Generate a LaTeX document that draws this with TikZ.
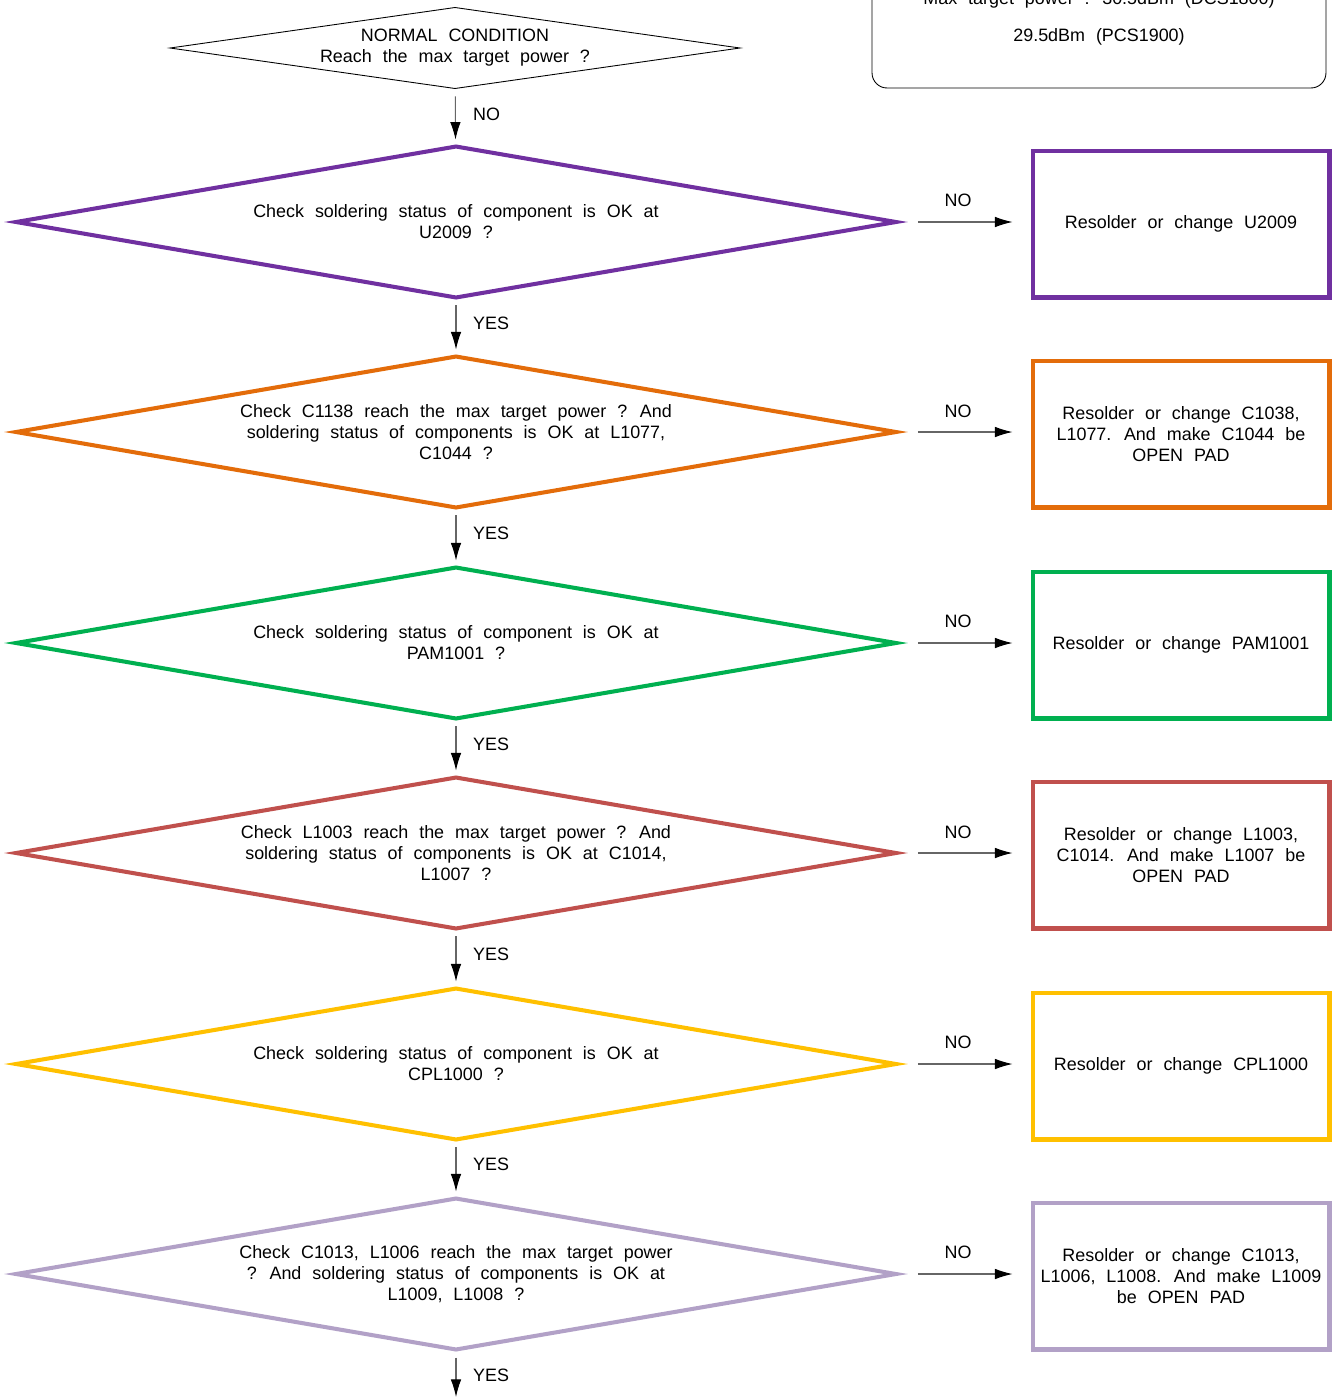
\documentclass[tikz,border=0pt]{standalone}
\usepackage{fontspec}
\setmainfont{Liberation Sans}[WordSpace=2.2]
\usepackage{tikz}
\usetikzlibrary{shapes.geometric, arrows.meta}
\definecolor{flowpurple}{HTML}{7030A0}
\definecolor{floworange}{HTML}{E36C0A}
\definecolor{flowgreen}{HTML}{00B050}
\definecolor{flowred}{HTML}{C0504D}
\definecolor{flowyellow}{HTML}{FFC000}
\definecolor{flowlilac}{HTML}{B2A1C7}
\newcommand\flowfont{\fontsize{10.2}{11.95}\selectfont}

\begin{document}
\begin{tikzpicture}[
  x=0.02cm, y=-0.02cm,
  every node/.style={font=\flowfont, align=center},
  check/.style={diamond, aspect=5.9, draw=#1, line width=2.3pt, minimum width=17.6cm, minimum height=3.02cm, inner sep=0pt, outer sep=0pt},
  fix/.style={draw=#1, line width=2.3pt, minimum width=5.94cm, minimum height=2.94cm, inner sep=0pt, outer sep=0pt},
  arrow/.style={-{Latex[black, length=10pt, width=6pt]}, gray!80!black, line width=0.6pt},
  down/.style={arrow, shorten <=0.16cm, shorten >=0.14cm},
  side/.style={arrow, shorten <=0.44cm, shorten >=0.4cm}
]
\useasboundingbox (0,0) rectangle (1335,1397);

\node[draw, line width=0.5pt, rounded corners=0.3cm, minimum width=9.08cm, minimum height=2.8cm, font=\fontsize{10.2}{21}\selectfont] (spec) at (1099,18) {Max target power : 30.5dBm (DCS1800)\\29.5dBm (PCS1900)};

\node[diamond, aspect=7, draw, line width=0.5pt, minimum width=11.4cm, minimum height=1.62cm, inner sep=0pt, outer sep=0pt] (start) at (455,48) {NORMAL CONDITION\\Reach the max target power ?};

% checks
\node[check=flowpurple] (d1) at (456,222) {Check soldering status of component is OK at\\U2009 ?};
\node[check=floworange] (d2) at (456,432) {Check C1138 reach the max target power ? And\\soldering status of components is OK at L1077,\\C1044 ?};
\node[check=flowgreen] (d3) at (456,643) {Check soldering status of component is OK at\\PAM1001 ?};
\node[check=flowred] (d4) at (456,853) {Check L1003 reach the max target power ? And\\soldering status of components is OK at C1014,\\L1007 ?};
\node[check=flowyellow] (d5) at (456,1064) {Check soldering status of component is OK at\\CPL1000 ?};
\node[check=flowlilac] (d6) at (456,1274) {Check C1013, L1006 reach the max target power\\? And soldering status of components is OK at\\L1009, L1008 ?};
\coordinate (next) at (456,1397);

% repairs
\node[fix=flowpurple] (r1) at (1181,224) {Resolder or change U2009};
\node[fix=floworange] (r2) at (1181,434) {Resolder or change C1038,\\L1077. And make C1044 be\\OPEN PAD};
\node[fix=flowgreen] (r3) at (1181,645) {Resolder or change PAM1001};
\node[fix=flowred] (r4) at (1181,855) {Resolder or change L1003,\\C1014. And make L1007 be\\OPEN PAD};
\node[fix=flowyellow] (r5) at (1181,1066) {Resolder or change CPL1000};
\node[fix=flowlilac] (r6) at (1181,1276) {Resolder or change C1013,\\L1006, L1008. And make L1009\\be OPEN PAD};

\draw[down] (start) -- (d1);
\draw[down] (d1) -- (d2);
\draw[down] (d2) -- (d3);
\draw[down] (d3) -- (d4);
\draw[down] (d4) -- (d5);
\draw[down] (d5) -- (d6);
\draw[arrow, shorten <=0.16cm] (d6.south) -- (next);

\draw[side] (d1.east) -- (r1.west |- d1.east);
\draw[side] (d2.east) -- (r2.west |- d2.east);
\draw[side] (d3.east) -- (r3.west |- d3.east);
\draw[side] (d4.east) -- (r4.west |- d4.east);
\draw[side] (d5.east) -- (r5.west |- d5.east);
\draw[side] (d6.east) -- (r6.west |- d6.east);

\node[anchor=west] (no0) at (467,114) {NO};
\node[anchor=west] (yes1) at (467,323) {YES};
\node[anchor=west] (yes2) at (467,533) {YES};
\node[anchor=west] (yes3) at (467,744) {YES};
\node[anchor=west] (yes4) at (467,954) {YES};
\node[anchor=west] (yes5) at (467,1164) {YES};
\node[anchor=west] (yes6) at (467,1375) {YES};

\node (no1) at (958,200) {NO};
\node (no2) at (958,411) {NO};
\node (no3) at (958,621) {NO};
\node (no4) at (958,832) {NO};
\node (no5) at (958,1042) {NO};
\node (no6) at (958,1252) {NO};

\end{tikzpicture}
\end{document}
